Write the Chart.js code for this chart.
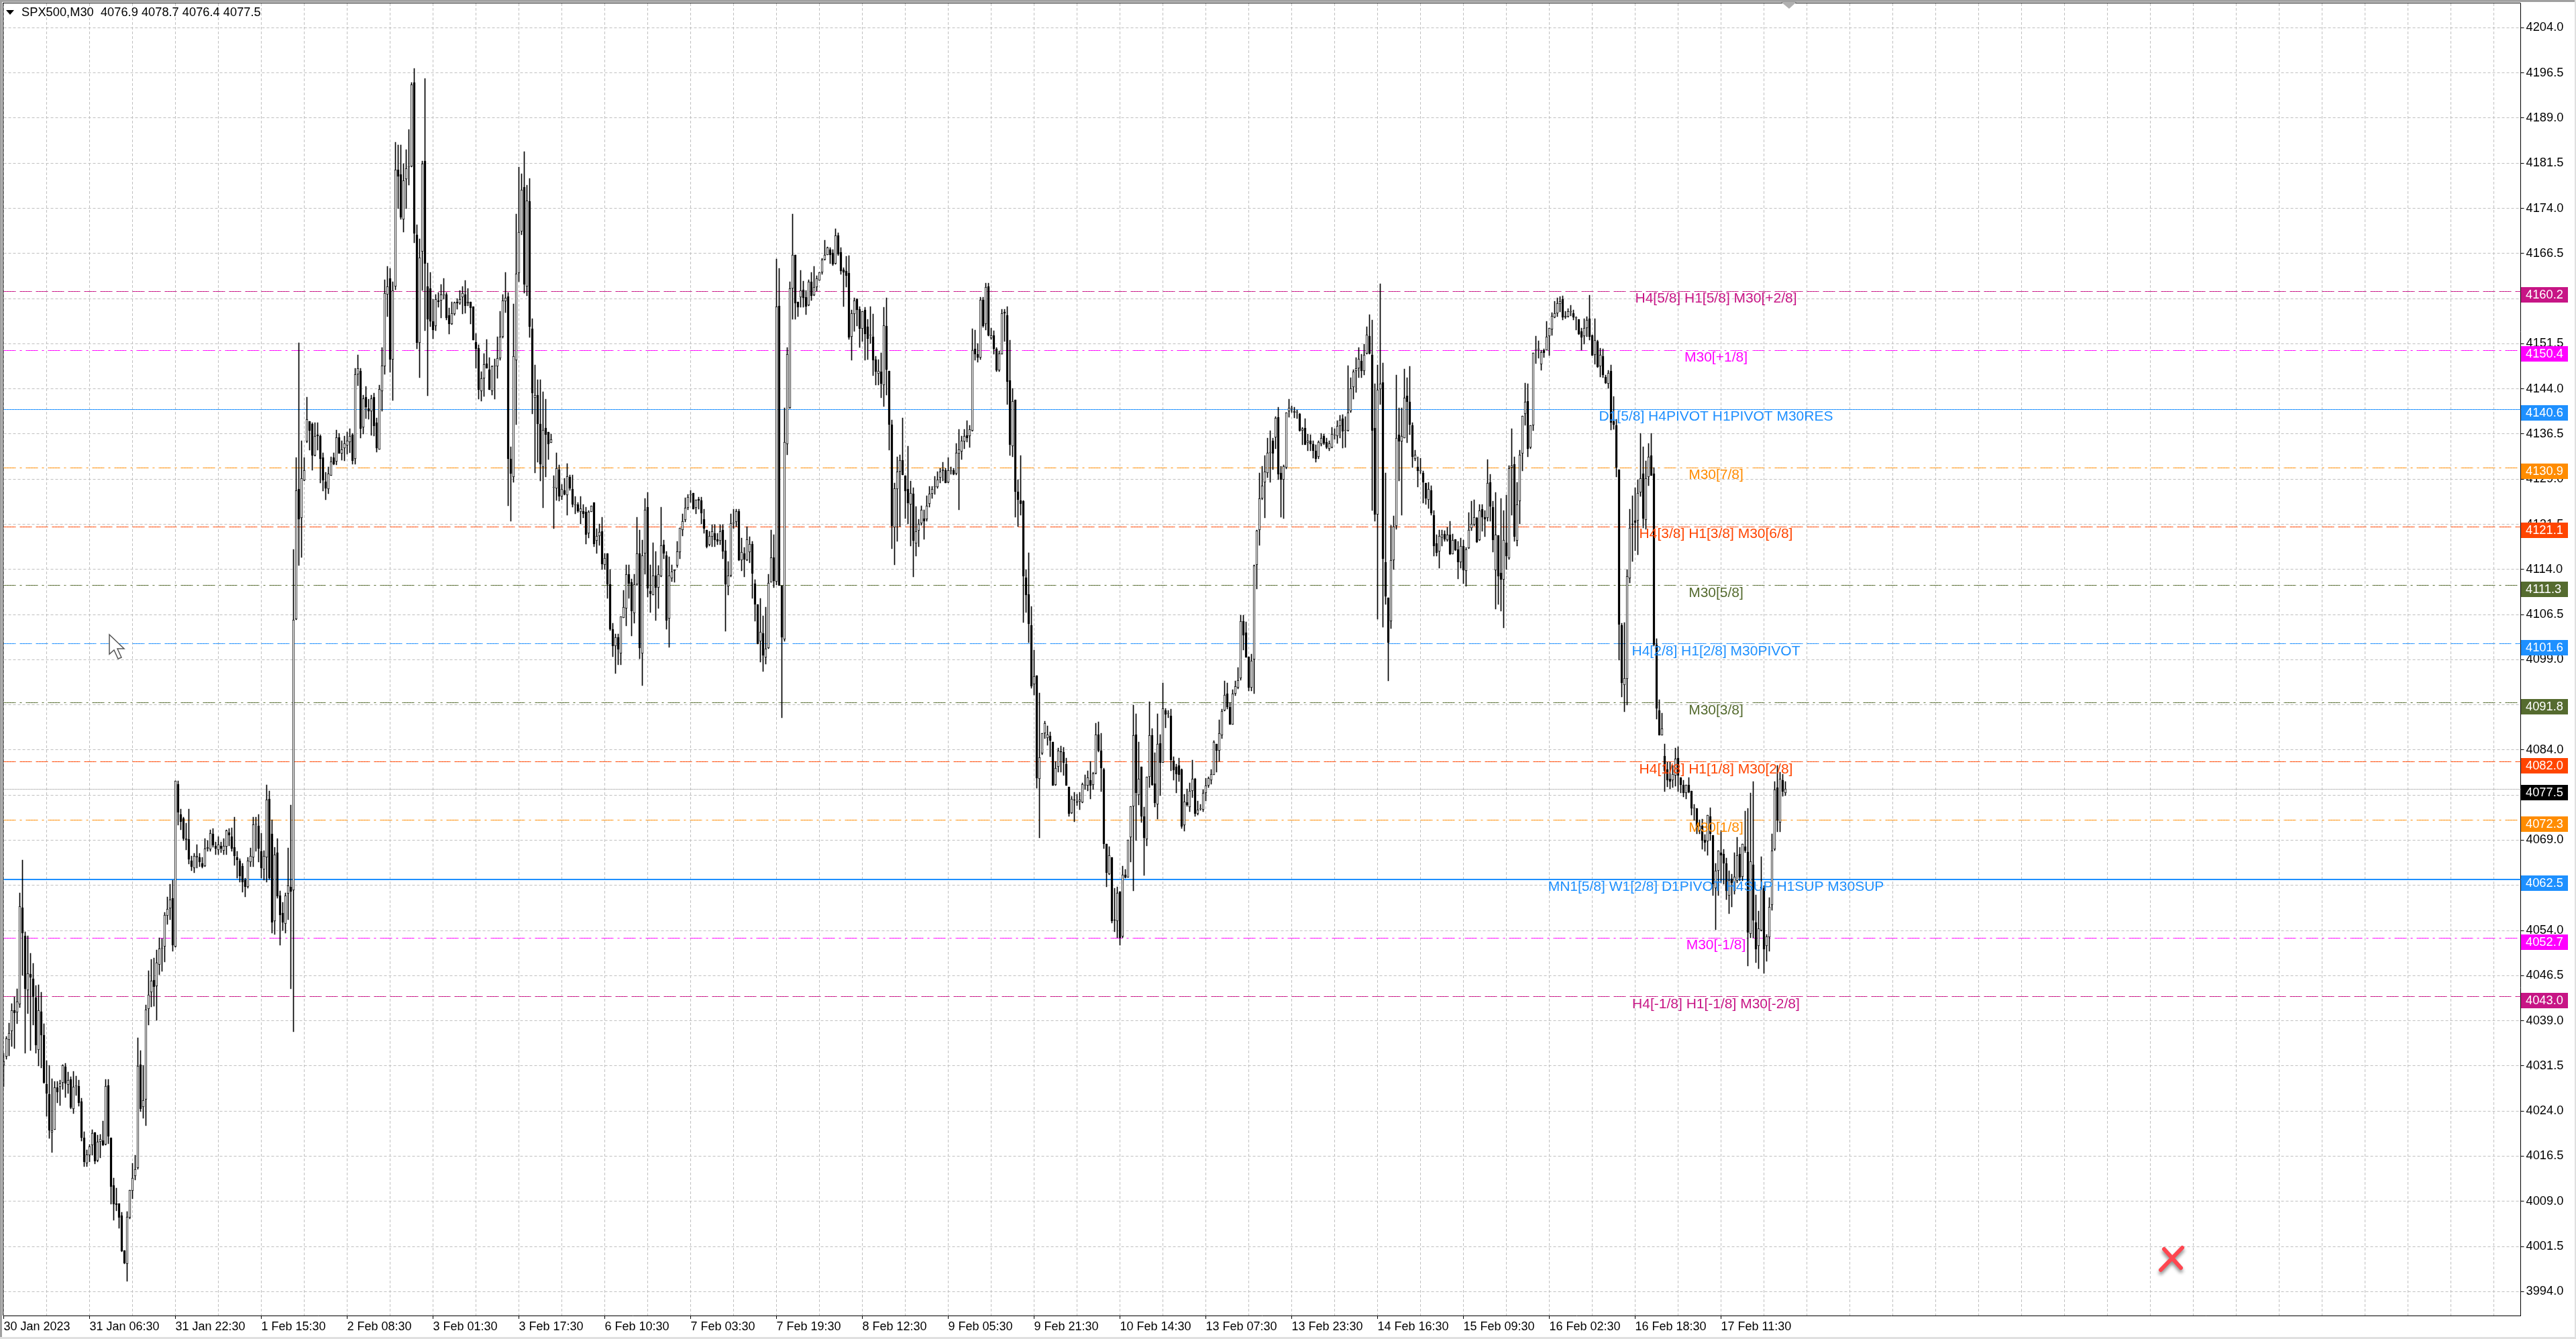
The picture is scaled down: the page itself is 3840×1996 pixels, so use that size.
<!DOCTYPE html>
<html>
<head>
<meta charset="utf-8">
<title>SPX500,M30</title>
<script src="https://cdn.jsdelivr.net/npm/chart.js@4"></script>
<style>
    html, body { margin: 0; padding: 0; background: #fff; overflow: hidden; }
    canvas { display: block; }
</style>
</head>
<body>
<canvas id="priceChart" width="3840" height="1996" style="width:3840px;height:1996px"></canvas>
<script>
const titleText = "SPX500,M30  4076.9 4078.7 4076.4 4077.5";

const timeTicks = ["30 Jan 2023", "31 Jan 06:30", "31 Jan 22:30", "1 Feb 15:30", "2 Feb 08:30", "3 Feb 01:30", "3 Feb 17:30",
    "6 Feb 10:30", "7 Feb 03:30", "7 Feb 19:30", "8 Feb 12:30", "9 Feb 05:30", "9 Feb 21:30", "10 Feb 14:30", "13 Feb 07:30",
    "13 Feb 23:30", "14 Feb 16:30", "15 Feb 09:30", "16 Feb 02:30", "16 Feb 18:30", "17 Feb 11:30"];

const priceTicks = [4204, 4196.5, 4189, 4181.5, 4174, 4166.5, 4159, 4151.5, 4144, 4136.5, 4129, 4121.5, 4114, 4106.5, 4099,
    4091.5, 4084, 4076.5, 4069, 4061.5, 4054, 4046.5, 4039, 4031.5, 4024, 4016.5, 4009, 4001.5, 3994];

const levelValues = [4160.2, 4150.4, 4140.6, 4130.9, 4121.1, 4111.3, 4101.6, 4091.8, 4082.0, 4072.3, 4062.5, 4052.7, 4043.0];
const levelTexts = ["H4[5/8] H1[5/8] M30[+2/8]", "M30[+1/8]", "D1[5/8] H4PIVOT H1PIVOT M30RES", "M30[7/8]", "H4[3/8] H1[3/8] M30[6/8]",
    "M30[5/8]", "H4[2/8] H1[2/8] M30PIVOT", "M30[3/8]", "H4[1/8] H1[1/8] M30[2/8]", "M30[1/8]",
    "MN1[5/8] W1[2/8] D1PIVOT H4SUP H1SUP M30SUP", "M30[-1/8]", "H4[-1/8] H1[-1/8] M30[-2/8]"];
const levelColors = ["#C71585", "#FF00FF", "#1E90FF", "#FF8C00", "#FF4500", "#556B2F", "#1E90FF", "#556B2F", "#FF4500", "#FF8C00", "#1E90FF", "#FF00FF", "#C71585"];
const lastPrice = 4077.5;

const opens = [
    4031.6, 4033, 4035.8, 4037.3, 4040.7, 4040.4, 4041.7, 4057.8, 4053.1, 4044.1,
    4046.8, 4046, 4042.9, 4034.2, 4040.5, 4036.6, 4028.5, 4026.8, 4020.4, 4020.9,
    4027.9, 4028, 4028.7, 4031.4, 4028.4, 4029.3, 4024.3, 4028.1, 4028.1, 4025.6,
    4019.6, 4015.3, 4016.7, 4018.3, 4020.4, 4015.8, 4018.9, 4019.1, 4018.4, 4028.2,
    4019.6, 4011.6, 4008.6, 4008.6, 4006.6, 4000.8, 3998.6, 4006.3, 4010.8, 4013.2,
    4014.5, 4031.7, 4024.7, 4025.9, 4041, 4043.8, 4045.8, 4044.8, 4048.3, 4051,
    4051.3, 4056.4, 4057.7, 4059.3, 4051.3, 4078.3, 4073.3, 4072.6, 4069, 4069.2,
    4065.6, 4064.4, 4066.1, 4066.1, 4065.1, 4064.7, 4067.6, 4067.5, 4070.1, 4068.1,
    4067.4, 4068.1, 4067.3, 4067.9, 4070.3, 4069.6, 4067.8, 4066.1, 4065.6, 4064.7,
    4062.4, 4061.3, 4065.4, 4066.1, 4071.6, 4071.4, 4067.1, 4064.1, 4066.1, 4075.9,
    4070.1, 4055.6, 4066.9, 4059.8, 4056.9, 4055.1, 4060.1, 4061.3, 4060.7, 4105.7,
    4127.3, 4122.6, 4128.8, 4135.3, 4138.6, 4138.2, 4132.9, 4136.4, 4136.2, 4132.6,
    4128.6, 4127.4, 4129.6, 4132.6, 4131.9, 4135.9, 4133.3, 4134.1, 4134.6, 4135.1,
    4136.4, 4132.4, 4146.4, 4147, 4137.6, 4142.6, 4140.7, 4140.3, 4142.6, 4138.4,
    4133.9, 4143.6, 4147.8, 4159.7, 4162.4, 4148.9, 4161, 4180.4, 4179.6, 4172.2,
    4178.9, 4180.8, 4181, 4194.9, 4169.6, 4151.7, 4166.8, 4181.9, 4161, 4160.7,
    4155.2, 4154.4, 4158.7, 4158.7, 4159.6, 4159.7, 4156.2, 4154.8, 4156.4, 4158.5,
    4158.2, 4159.2, 4159.7, 4158.2, 4158.4, 4157.7, 4151.8, 4150.8, 4143.6, 4145.7,
    4148.2, 4147.2, 4143.6, 4147.7, 4147.7, 4149.1, 4152.6, 4158.6, 4159.3, 4132.4,
    4129.3, 4148.8, 4163.2, 4170.1, 4177.5, 4161, 4175.2, 4154, 4142.5, 4142.9,
    4138.2, 4131, 4137.5, 4136.8, 4135, 4127.6, 4127.5, 4130.6, 4126.1, 4127.1,
    4126.3, 4129.3, 4127.3, 4124.7, 4124.8, 4123.6, 4123.7, 4123.6, 4120, 4123.6,
    4125.1, 4118.8, 4119.6, 4120.3, 4114.8, 4116.7, 4111.5, 4104.1, 4101.3, 4102.7,
    4100, 4106, 4107.5, 4113.2, 4111.8, 4106.7, 4111.5, 4116.7, 4100, 4116.6,
    4124.3, 4110.4, 4109.7, 4113, 4111, 4112.9, 4118.1, 4116.3, 4105.8, 4112.5,
    4113.8, 4114.6, 4116.9, 4120.6, 4122.2, 4124.2, 4126.3, 4126.7, 4124.2, 4125.7,
    4125.4, 4122.3, 4120.6, 4118.1, 4119.4, 4120, 4119, 4118.8, 4120.6, 4117.1,
    4111.2, 4113, 4121.7, 4121.9, 4123.7, 4115.5, 4116.6, 4115.5, 4116.9, 4118.2,
    4111.6, 4108.2, 4102, 4103.4, 4099.4, 4100.9, 4111.9, 4116, 4112, 4157.8,
    4111.3, 4102.4, 4134.8, 4140.8, 4160.7, 4166.2, 4158.5, 4159.2, 4160.5, 4159.2,
    4157.9, 4161.8, 4159.6, 4160.9, 4162, 4163.4, 4165.5, 4166.2, 4167.1, 4166.6,
    4164.8, 4169.5, 4166.7, 4163.8, 4163.6, 4163.2, 4152.7, 4156.4, 4158.9, 4157.2,
    4154, 4157.1, 4154.3, 4152.9, 4152.7, 4148.9, 4146.5, 4146.9, 4144.6, 4154.4,
    4147, 4138, 4121, 4127.3, 4130.3, 4132.1, 4129.6, 4127.3, 4124.8, 4126.6,
    4118.3, 4120.4, 4121.7, 4122.4, 4122.3, 4124.9, 4126.6, 4127.7, 4127.7, 4129.2,
    4130.4, 4130.5, 4128.5, 4130.4, 4130.5, 4129.9, 4133.3, 4133.6, 4135.3, 4136.3,
    4136.1, 4137, 4150.6, 4149.8, 4149.2, 4158.8, 4154.8, 4161, 4152.4, 4152.9,
    4150.7, 4147.1, 4149.8, 4156.8, 4156.2, 4145.4, 4134.5, 4142.2, 4126.9, 4125.5,
    4125.3, 4112.6, 4109.9, 4104.7, 4094.9, 4096.4, 4079.2, 4083.4, 4086.8, 4086,
    4086.3, 4085.3, 4078.2, 4081.2, 4083.7, 4083.7, 4081.7, 4077.9, 4073.5, 4075.7,
    4075.4, 4075.4, 4075.3, 4078.1, 4078.1, 4079, 4078.2, 4080.1, 4086.6, 4083.9,
    4080.8, 4068.4, 4063.4, 4066.1, 4055.8, 4055.6, 4060.5, 4053, 4063.2, 4062.8,
    4069.5, 4074.6, 4086.6, 4076.5, 4081.2, 4073, 4069.2, 4079.5, 4086.4, 4078.4,
    4075, 4085.1, 4081.9, 4090.6, 4090, 4089.7, 4082.2, 4081.2, 4081.4, 4080.8,
    4071.5, 4075.3, 4074.5, 4077.2, 4079.2, 4073.4, 4074.2, 4074.1, 4076.8, 4078.1,
    4079, 4079.9, 4085, 4083.9, 4086.4, 4090.6, 4093.3, 4091.1, 4088.2, 4093.3,
    4094.4, 4095.9, 4105.4, 4103.5, 4099.5, 4094.4, 4099, 4114.7, 4120.5, 4125.8,
    4128.5, 4130, 4133.4, 4135.4, 4135.9, 4139.3, 4130, 4128.9, 4130.9, 4140.3,
    4140.7, 4140, 4140, 4139.8, 4137, 4137.5, 4135, 4135.4, 4134.8, 4133.7,
    4132.7, 4134.8, 4136.1, 4135.1, 4134, 4134.3, 4136.3, 4136.1, 4137.8, 4139,
    4137, 4137, 4140.3, 4144.3, 4147, 4147.4, 4148.6, 4147, 4149.9, 4152.8,
    4149.6, 4137.5, 4123.1, 4144, 4145.1, 4115.2, 4109.3, 4105.4, 4115.5, 4121.2,
    4136.4, 4135.3, 4135.8, 4142.8, 4141.8, 4137.9, 4132.4, 4131, 4130.4, 4130,
    4128.4, 4125.6, 4127.1, 4123, 4118.3, 4117, 4119.3, 4119.9, 4118.9, 4119.8,
    4116.5, 4119, 4117.3, 4115.2, 4117.9, 4113.8, 4117.5, 4120.9, 4121.4, 4122.6,
    4118.9, 4124, 4122.7, 4122.5, 4128.5, 4124.3, 4113.9, 4119.7, 4113.4, 4112.3,
    4118.4, 4115.9, 4130.9, 4131.5, 4118.8, 4125.3, 4133.3, 4139.8, 4142, 4134.3,
    4137.9, 4150.4, 4150.5, 4148.1, 4150.4, 4150.4, 4152.8, 4153.9, 4155.9, 4156.6,
    4158.1, 4158.9, 4155.9, 4156, 4156.8, 4156.6, 4155.8, 4155.5, 4153.5, 4152.8,
    4154.1, 4155.7, 4152.9, 4149.6, 4151.9, 4147.7, 4149.4, 4146, 4144.9, 4147,
    4138.6, 4137.9, 4130.6, 4104.7, 4094.8, 4095.8, 4112.5, 4121.5, 4122.1, 4122.1,
    4126.8, 4129.9, 4122.2, 4129.4, 4132.9, 4129.9, 4101.5, 4090.6, 4086.4, 4083,
    4080.8, 4079.2, 4079, 4079.7, 4082.6, 4079.4, 4078.2, 4076.8, 4078.2, 4077.2,
    4074.3, 4074.3, 4070.6, 4071.4, 4069, 4068.8, 4073, 4069.8, 4061, 4063.9,
    4066.9, 4066.7, 4065.2, 4059.8, 4062.6, 4060.6, 4062.3, 4066.7, 4062.9, 4067.9,
    4067, 4053.4, 4064.9, 4055.3, 4051.4, 4054, 4061, 4051.4, 4052.9, 4058.2,
    4067.5, 4077.8, 4071.9, 4079, 4076.9];

const closes = [
    4032.3, 4036.1, 4037, 4040.7, 4040.3, 4042.2, 4058, 4053.6, 4044.3, 4046.9,
    4046.2, 4043, 4034.9, 4040.7, 4036.6, 4028.7, 4026.9, 4020.8, 4020.8, 4027.9,
    4027.1, 4028.6, 4031.6, 4028.6, 4029.1, 4024.6, 4028, 4028.3, 4025.3, 4019.6,
    4015.5, 4016.8, 4018.1, 4020.3, 4015.7, 4018.9, 4019.3, 4018.3, 4028.1, 4019.8,
    4011.4, 4008.5, 4008.4, 4006.3, 4000.7, 3998.7, 4006.4, 4010.9, 4012.9, 4014.3,
    4031.5, 4024.3, 4025.8, 4040.8, 4043.3, 4045.6, 4044.6, 4048.6, 4051, 4051,
    4056.6, 4057.6, 4059.1, 4051.6, 4078.9, 4073.6, 4072.1, 4069.3, 4069.3, 4065.8,
    4064.6, 4066.4, 4066.4, 4065.4, 4064.6, 4067.6, 4067.8, 4070.2, 4068.2, 4067.6,
    4068.3, 4067.6, 4068.1, 4070.6, 4069.8, 4067.6, 4066.4, 4065.7, 4063, 4062,
    4061.3, 4065.6, 4066.4, 4071.6, 4071.6, 4067.6, 4064.4, 4066.4, 4075.7, 4062.7,
    4055.3, 4066.6, 4059.7, 4056.6, 4055.3, 4059.8, 4061.5, 4060.5, 4105.6, 4127.1,
    4122.3, 4129.1, 4130.5, 4138.9, 4137.1, 4132.9, 4136.2, 4136.1, 4132.4, 4128.8,
    4127.5, 4129.9, 4131.9, 4131.5, 4135.9, 4133.3, 4133.9, 4134.9, 4135.4, 4136.2,
    4132, 4146.4, 4147.4, 4137.4, 4142.4, 4140.9, 4140.3, 4142.4, 4137.8, 4134.1,
    4144, 4147.9, 4159.9, 4161, 4148.9, 4160.3, 4180.4, 4179.3, 4172.5, 4178.6,
    4180.6, 4180.9, 4194.6, 4169.8, 4151.7, 4165.8, 4181.4, 4164.8, 4155.5, 4155.2,
    4153.8, 4158.9, 4158.4, 4159.7, 4159.7, 4155.8, 4154.8, 4156.6, 4158.3, 4158.2,
    4158.9, 4159.9, 4157.8, 4158.4, 4157.4, 4152.1, 4150.7, 4143.8, 4145.7, 4148.1,
    4147.4, 4143.8, 4147.8, 4147.8, 4149.1, 4152.6, 4158.7, 4159.1, 4132.4, 4129.9,
    4149.4, 4163.1, 4170, 4177.1, 4161.3, 4175.3, 4154.3, 4143.3, 4143, 4138.2,
    4131.5, 4137.2, 4136.4, 4134.8, 4135.6, 4127.6, 4130.8, 4126.1, 4127.3, 4126.5,
    4129.5, 4127.5, 4124.8, 4124.7, 4123.7, 4124.1, 4123.2, 4119.8, 4123.6, 4124.6,
    4118.2, 4119.6, 4120.2, 4114.9, 4115.9, 4111.5, 4104, 4101.3, 4102.7, 4100.7,
    4106.2, 4107.7, 4113.2, 4111.6, 4107.1, 4111.5, 4116.6, 4100.9, 4116.3, 4123.9,
    4110.8, 4110, 4113, 4111, 4113.2, 4118, 4116.6, 4105.5, 4113, 4113.6,
    4114, 4117, 4120.9, 4122, 4124.2, 4126, 4126.3, 4124, 4125.6, 4125.4,
    4123.3, 4120.8, 4117.8, 4119.6, 4120.3, 4118.9, 4118.7, 4120.3, 4117, 4111.5,
    4113, 4121.7, 4121.8, 4123.7, 4115.5, 4116.9, 4115.6, 4119, 4118.2, 4113.3,
    4108.2, 4101.6, 4103.6, 4099.7, 4100.8, 4111.7, 4116, 4112.1, 4157.7, 4111.3,
    4102.7, 4135.2, 4149.8, 4160.7, 4166.2, 4158.2, 4157.6, 4160.3, 4159.1, 4157.7,
    4161.8, 4159.5, 4160.9, 4162.3, 4163.4, 4165.5, 4166.2, 4167.5, 4166.3, 4164.7,
    4169.5, 4166.4, 4163.6, 4163.4, 4162.8, 4152.5, 4156.6, 4158.7, 4157.1, 4154,
    4156.9, 4153.1, 4152.3, 4152.9, 4148.8, 4146.8, 4147, 4144.8, 4154.5, 4147.2,
    4138, 4121.2, 4127.5, 4130.3, 4132.1, 4129.7, 4127, 4125, 4126.7, 4118.8,
    4120.3, 4121.5, 4123.9, 4122, 4124.6, 4126.6, 4127.4, 4127.8, 4128.9, 4130.3,
    4130.6, 4128.4, 4130.5, 4130.5, 4129.8, 4133.4, 4133.9, 4135.4, 4136.2, 4135.8,
    4137.3, 4150.4, 4149.7, 4149.2, 4158.8, 4154.4, 4160.9, 4152.9, 4152.9, 4150.6,
    4147.1, 4149.9, 4156.5, 4156.5, 4145.2, 4134.7, 4141.9, 4126.9, 4125.6, 4124.9,
    4112.9, 4109.7, 4104.9, 4094.6, 4096.2, 4079.3, 4082.8, 4086.8, 4088.5, 4086.6,
    4085.6, 4078.1, 4081, 4083.9, 4083.6, 4081.9, 4078.1, 4073.4, 4075.9, 4075.6,
    4075.3, 4075.7, 4078.3, 4078.2, 4079.4, 4078.1, 4080.1, 4086.6, 4083.9, 4081,
    4068.4, 4063.6, 4066.5, 4055.6, 4055.7, 4060.2, 4052.8, 4063.2, 4062.8, 4069.1,
    4074.6, 4086.4, 4076.9, 4079.2, 4073, 4069.4, 4079.5, 4086.4, 4078.2, 4075.2,
    4085, 4081.9, 4090.9, 4089.9, 4090, 4082.3, 4080.6, 4080, 4079.9, 4071.3,
    4075.4, 4074.8, 4077.2, 4079.2, 4073.4, 4074.1, 4074.3, 4076.9, 4078.1, 4079.3,
    4080, 4085.3, 4083.9, 4086.8, 4090.4, 4093.1, 4091.1, 4088.2, 4093.3, 4094.6,
    4095.6, 4105.4, 4103.1, 4099.4, 4094.3, 4098.8, 4114.6, 4120.4, 4125.8, 4127.9,
    4130.3, 4133.4, 4133.5, 4133.2, 4139.2, 4129.8, 4128.9, 4131.1, 4140, 4140.8,
    4140.7, 4140.3, 4140, 4137.1, 4137.4, 4134.7, 4135.4, 4134.8, 4133.7, 4132.4,
    4135.1, 4135.8, 4134.9, 4134.3, 4134.9, 4136.5, 4136.4, 4137.8, 4138.8, 4136.9,
    4137.2, 4140.1, 4144.1, 4146.9, 4147.4, 4149, 4147, 4149.6, 4153, 4149.9,
    4137, 4123.1, 4143.9, 4144.8, 4115.8, 4109.5, 4101.8, 4115.5, 4121.1, 4135.8,
    4135.3, 4136.1, 4142.5, 4141.8, 4138, 4132.7, 4133, 4130.4, 4130.4, 4128.5,
    4125.8, 4127.4, 4123.3, 4117.9, 4116.8, 4119.5, 4119.8, 4119, 4119.8, 4116.5,
    4118.9, 4117.2, 4115.2, 4117.9, 4113.9, 4117.3, 4120.5, 4121.5, 4122.7, 4118.5,
    4123.8, 4122.7, 4122.3, 4128.4, 4124.5, 4118.9, 4119.8, 4112.9, 4112.3, 4118.9,
    4116.2, 4130.8, 4131.3, 4119.4, 4124.8, 4133, 4139.5, 4141.8, 4134, 4137.9,
    4150, 4150.4, 4150.6, 4150.1, 4150, 4152.7, 4154.1, 4156.1, 4156.6, 4158.2,
    4158.6, 4155.9, 4156.1, 4156.9, 4156.8, 4155.9, 4155.8, 4153.1, 4152.5, 4154.1,
    4155.4, 4152.6, 4149.5, 4152.1, 4147.6, 4149.6, 4146.3, 4145, 4146.6, 4138.4,
    4138, 4130.9, 4104.8, 4095.1, 4095.9, 4112.9, 4120.9, 4121.4, 4121.8, 4126.7,
    4129.1, 4122.4, 4129.1, 4132.7, 4129.6, 4101.5, 4090.9, 4086.4, 4087.6, 4080.5,
    4079, 4078.7, 4080, 4082.5, 4079.7, 4078.2, 4076.8, 4078.2, 4077, 4074.3,
    4074.3, 4071.2, 4071.4, 4068.9, 4068.6, 4073.2, 4070, 4061.7, 4063.9, 4067.3,
    4066.5, 4065.2, 4060.6, 4062.4, 4061.9, 4062.9, 4066.5, 4062.8, 4068.4, 4067.3,
    4053.7, 4065.5, 4055.7, 4050.9, 4054.3, 4061.2, 4050.9, 4053, 4057.9, 4067.3,
    4077.4, 4072.3, 4079.2, 4077.1, 4077.5];

const highs = [
    4033.6, 4036.4, 4038.6, 4041.8, 4043, 4044.3, 4060.2, 4065.7, 4053.8, 4053.1,
    4050.2, 4048.5, 4044.9, 4045, 4043.8, 4038.5, 4032.4, 4031.6, 4029.4, 4028.9,
    4028.9, 4029.1, 4031.7, 4031.9, 4030.5, 4029.7, 4030.6, 4029.8, 4029.1, 4026.1,
    4020.6, 4017.6, 4018.4, 4020.9, 4020.5, 4020, 4020.1, 4022.3, 4029.3, 4029.3,
    4019.6, 4012.9, 4011.2, 4008.6, 4007.2, 4000.8, 4007.3, 4010.9, 4015.3, 4016.7,
    4036.2, 4034.1, 4031.6, 4041.6, 4047.3, 4049.2, 4049.4, 4050.8, 4052.8, 4052.7,
    4057, 4059.6, 4061.7, 4062.4, 4078.9, 4078.9, 4074.2, 4072.8, 4071.8, 4074.2,
    4066.4, 4066.8, 4068.3, 4066.8, 4066.1, 4069.3, 4068.9, 4070.7, 4070.9, 4068.7,
    4069.6, 4068.7, 4069.3, 4070.7, 4070.9, 4071.1, 4072.8, 4067.1, 4065.9, 4065.2,
    4062.7, 4066.1, 4067.7, 4072.8, 4072.8, 4073.3, 4070.2, 4067.3, 4078.2, 4077.2,
    4072.4, 4067.8, 4069.3, 4060.6, 4058.7, 4060.2, 4067.7, 4074.9, 4117.3, 4132.6,
    4151.6, 4135.4, 4132.6, 4142.6, 4138.6, 4138.4, 4138.4, 4138.4, 4136.4, 4133.4,
    4130.1, 4131, 4132.7, 4133.4, 4137.2, 4136.6, 4135.4, 4136.2, 4136.8, 4137.4,
    4136.6, 4147.4, 4149.6, 4147.4, 4143, 4144.4, 4142.3, 4142.9, 4143.3, 4139.2,
    4144.6, 4150.9, 4162.1, 4164.3, 4164, 4161.8, 4185, 4184.5, 4184.5, 4181.4,
    4183.7, 4187.1, 4194.9, 4197.2, 4171.3, 4168.9, 4181.9, 4195.6, 4164.9, 4163.4,
    4158.9, 4159.7, 4160, 4161.4, 4162.4, 4160, 4157.4, 4158.5, 4158.5, 4159,
    4160.3, 4161, 4162, 4160.7, 4158.4, 4157.7, 4153.2, 4151.3, 4146.8, 4149.9,
    4152.2, 4149.2, 4147.9, 4149, 4152.6, 4156.9, 4159.7, 4163.4, 4160, 4134.4,
    4158.1, 4173, 4180.8, 4179.7, 4183.4, 4177.8, 4179, 4155.7, 4148, 4145.5,
    4145.5, 4143.5, 4142.3, 4136.8, 4136.5, 4129.6, 4133.4, 4131.4, 4128.1, 4129.1,
    4131.6, 4129.7, 4129.7, 4126.1, 4125.1, 4126.1, 4124.8, 4124.3, 4123.8, 4124.6,
    4125.1, 4120.8, 4121.6, 4122.7, 4116.7, 4116.7, 4114, 4105.1, 4103.3, 4103.3,
    4106.2, 4110.5, 4114.8, 4114.8, 4112.4, 4113.2, 4122.7, 4120.6, 4118.9, 4125.8,
    4126.8, 4114.7, 4118.4, 4117, 4114.6, 4124.3, 4118.9, 4117, 4116.1, 4114.8,
    4114, 4118.6, 4120.9, 4123.2, 4125.9, 4126.5, 4127.1, 4126.7, 4125.6, 4126,
    4126, 4124, 4120.6, 4120.3, 4121.4, 4121.4, 4120, 4121.4, 4121.4, 4118.9,
    4115.3, 4123.2, 4124, 4124, 4124, 4119.2, 4117.7, 4121.1, 4119.4, 4118.6,
    4112.3, 4108.2, 4109.2, 4106.3, 4107.7, 4113.2, 4120.6, 4119.8, 4165.6, 4164,
    4111.3, 4140.8, 4150.9, 4161.8, 4173, 4166.3, 4158.5, 4163.7, 4161.9, 4160.3,
    4162.1, 4163.4, 4164.4, 4162.8, 4163.4, 4165.7, 4168.7, 4167.6, 4167.5, 4167.1,
    4170.6, 4169.9, 4167.5, 4164.1, 4166, 4166.1, 4157.1, 4159.1, 4159, 4157.7,
    4156.9, 4157.6, 4155.6, 4157.7, 4156.4, 4149.4, 4148.9, 4150, 4157.6, 4159.1,
    4147, 4138.8, 4128.4, 4132.7, 4133, 4139.2, 4129.6, 4134.5, 4128.7, 4127.6,
    4124.5, 4122.3, 4124.6, 4123.9, 4126.2, 4127.8, 4127.8, 4129.5, 4130.3, 4130.8,
    4131.8, 4130.8, 4132.6, 4131, 4130.8, 4134.9, 4137.3, 4136.2, 4137.3, 4138.7,
    4137.9, 4154, 4153.8, 4151.5, 4159.2, 4159.2, 4161.6, 4161.6, 4154.1, 4153.6,
    4150.9, 4150.3, 4157.2, 4157.2, 4157.7, 4152.1, 4144.1, 4142.2, 4128.9, 4132.9,
    4125.4, 4114, 4116.8, 4107.8, 4100.6, 4096.4, 4093.5, 4086.8, 4088.8, 4088,
    4087, 4085.3, 4082.1, 4084.3, 4084.6, 4084.4, 4082.7, 4077.9, 4076.3, 4077,
    4076.6, 4077, 4078.5, 4079.9, 4080.5, 4082.1, 4080.3, 4088.5, 4088.7, 4086.8,
    4081, 4068.4, 4067.9, 4066.1, 4061, 4061.2, 4060.5, 4064.7, 4064.1, 4069.1,
    4074.6, 4091.4, 4090, 4085.3, 4081.2, 4074.5, 4079.5, 4092, 4087.5, 4083.5,
    4090, 4086.6, 4095.1, 4090.9, 4090.6, 4090.8, 4082.9, 4081.7, 4082.7, 4080.9,
    4076.6, 4077.5, 4078.5, 4082.3, 4079.3, 4075.5, 4075, 4077.4, 4079.3, 4079.5,
    4080.8, 4085.6, 4085, 4089, 4090.8, 4095.5, 4095.1, 4091.9, 4094, 4095.5,
    4097.7, 4106.4, 4106.4, 4105.3, 4099.5, 4099.9, 4114.7, 4120.5, 4130, 4131.1,
    4132.9, 4135.8, 4137.1, 4135.8, 4139.4, 4141, 4131.1, 4131.4, 4140, 4142.3,
    4141.2, 4141, 4140.5, 4139.9, 4137.6, 4139, 4136.5, 4136.4, 4135.4, 4134.7,
    4135.4, 4136.6, 4136.5, 4135.8, 4135.4, 4137.6, 4137.4, 4138.7, 4139.6, 4139.7,
    4139.4, 4147.9, 4145.9, 4147.2, 4149.2, 4150.9, 4149.8, 4151.4, 4154.3, 4156.3,
    4155.4, 4144.8, 4148, 4161.5, 4148.3, 4130, 4109.3, 4121.3, 4122.9, 4146.3,
    4140.8, 4140.8, 4147.3, 4145.9, 4147.8, 4138.4, 4133.8, 4132.7, 4132.5, 4130.4,
    4128.4, 4128.5, 4127.9, 4123.8, 4119.8, 4120.5, 4120.5, 4120.4, 4121, 4122,
    4119.9, 4119, 4118.7, 4119.2, 4118.9, 4117.6, 4123.5, 4125.3, 4125.6, 4122.7,
    4124.8, 4124.8, 4123.8, 4132.3, 4129.8, 4125.3, 4126.8, 4119.7, 4125.8, 4123.8,
    4126.3, 4131.2, 4137.4, 4132.7, 4128.5, 4133.8, 4139.5, 4145, 4144.9, 4137.9,
    4150, 4152.8, 4152, 4150.4, 4150.7, 4155.2, 4154.1, 4156.7, 4158.6, 4159.1,
    4159.3, 4159.5, 4156.9, 4157.3, 4157.9, 4157.1, 4156, 4155.5, 4154.1, 4155.7,
    4156, 4159.6, 4153, 4155.7, 4152.1, 4150.8, 4150.7, 4146.3, 4147.1, 4148,
    4142.7, 4138.9, 4130.6, 4105.1, 4105.2, 4114, 4124, 4126.2, 4127.6, 4128.9,
    4136.6, 4134.4, 4132, 4134.9, 4136.6, 4130.9, 4102.5, 4092.4, 4090.1, 4085,
    4082, 4082, 4081.4, 4084.3, 4084.5, 4079.4, 4079, 4078.2, 4079.4, 4077.2,
    4075, 4074.3, 4072.4, 4072.5, 4069.9, 4073.2, 4074.4, 4069.8, 4065.2, 4067.3,
    4070.6, 4067.5, 4066, 4063.9, 4063.4, 4066.9, 4069.5, 4067.8, 4068.4, 4073.8,
    4074.3, 4076.8, 4078.8, 4059.9, 4057.2, 4066.3, 4061.5, 4053.3, 4059.5, 4070,
    4078.8, 4081.4, 4080.3, 4080, 4078.7];

const lows = [
    4028, 4032.6, 4033.2, 4034.7, 4034.4, 4038.5, 4041.2, 4046.5, 4033.6, 4040.2,
    4034.1, 4038.3, 4033.6, 4031.5, 4031.2, 4028.6, 4023.1, 4019.5, 4017.1, 4020.9,
    4025.4, 4024.9, 4027.6, 4026.2, 4026.9, 4024.3, 4023.6, 4026.6, 4024.8, 4019,
    4014.8, 4014.8, 4015.5, 4016.7, 4015.2, 4015.5, 4016.2, 4018.2, 4018.3, 4018.6,
    4008.5, 4005.8, 4007.4, 4004.5, 4000.6, 3998.6, 3995.7, 4006.1, 4009.4, 4012.5,
    4014.3, 4023.9, 4022.8, 4021.6, 4038.3, 4041.3, 4041.4, 4039.1, 4046.6, 4047.2,
    4048.8, 4055, 4055.8, 4050.6, 4051.2, 4071.5, 4070.7, 4068.9, 4067.4, 4065,
    4063.9, 4063.6, 4064.4, 4064.6, 4064.4, 4064.6, 4067.2, 4067.2, 4067.8, 4066.6,
    4066.6, 4066.9, 4066.6, 4066.6, 4068.1, 4067.1, 4064.8, 4062.7, 4062, 4060.4,
    4059.6, 4061, 4064.6, 4064.6, 4067.1, 4065.4, 4062.7, 4062.4, 4062, 4062.5,
    4053.6, 4053.3, 4059.4, 4051.6, 4054, 4053.6, 4055.8, 4044.3, 4037.2, 4105.6,
    4114.6, 4116, 4128.7, 4135, 4133.8, 4130.5, 4132.8, 4133.8, 4128.4, 4127,
    4125.6, 4126.6, 4129.6, 4131.4, 4131.4, 4133.3, 4132.1, 4132, 4133.1, 4133.4,
    4131.5, 4131.5, 4144.5, 4135.8, 4136.5, 4139, 4138.9, 4136.3, 4136.2, 4133.5,
    4133.9, 4140.3, 4146.4, 4156, 4146.7, 4142.1, 4160.4, 4173.9, 4172.2, 4170,
    4173.9, 4177.8, 4180.8, 4168.3, 4150.6, 4145.8, 4160.3, 4153.7, 4142.8, 4154.3,
    4152.3, 4153.6, 4157.6, 4155.8, 4158.9, 4155.4, 4153.1, 4154.7, 4156.2, 4157.2,
    4158, 4156.4, 4156.6, 4157.8, 4154.8, 4152.1, 4147.4, 4142.3, 4141.9, 4142.7,
    4147.4, 4143.8, 4142.9, 4142.3, 4145.7, 4148.7, 4152.4, 4156.7, 4124.6, 4122,
    4128.5, 4138, 4161.8, 4169.6, 4159.9, 4159.4, 4152.5, 4139.8, 4130, 4131.8,
    4128.7, 4124.2, 4129.3, 4132.3, 4135, 4120.8, 4125.4, 4125.3, 4125.6, 4126.3,
    4123, 4127.1, 4124.3, 4123.2, 4123.5, 4121.5, 4122.5, 4118.2, 4119.2, 4123.6,
    4117.8, 4116.6, 4118, 4114, 4114, 4109.2, 4103.8, 4099.5, 4096.7, 4098.1,
    4098.1, 4105.9, 4104.6, 4109.2, 4102.9, 4105, 4111.3, 4099.1, 4094.7, 4113.2,
    4109.4, 4106.8, 4109.7, 4105.5, 4107.5, 4112.8, 4115.7, 4104, 4101, 4112,
    4111.9, 4114.3, 4115.8, 4119.6, 4121.9, 4123.9, 4125.1, 4124, 4123.2, 4124,
    4121.6, 4120, 4117.5, 4117.9, 4117.8, 4117.8, 4118.1, 4118.1, 4115.7, 4103.7,
    4109.7, 4112.8, 4120.8, 4121.1, 4115.4, 4113.8, 4112.8, 4115.4, 4115.1, 4109.2,
    4105.4, 4101.6, 4098.6, 4097, 4098.2, 4100.8, 4111.8, 4111, 4111.4, 4111.3,
    4089.3, 4102.1, 4133, 4140.7, 4155.6, 4155.6, 4156, 4157.6, 4157.6, 4156.3,
    4157.8, 4158.7, 4159.4, 4160.2, 4162, 4163, 4165.4, 4166.2, 4164.8, 4164.5,
    4164.7, 4166.1, 4163, 4157.7, 4160.9, 4152.2, 4148.8, 4153.5, 4154.4, 4150.9,
    4151.9, 4148.8, 4148.9, 4151.5, 4146.2, 4144.6, 4144.6, 4142.5, 4141.1, 4143,
    4133.8, 4117.4, 4114.7, 4118.7, 4121.1, 4129.7, 4122.4, 4121.6, 4117.9, 4112.8,
    4116.2, 4117.8, 4121.3, 4119, 4122, 4124.3, 4125.8, 4126.5, 4127.5, 4128.4,
    4128.7, 4128.4, 4128.4, 4129.8, 4129.7, 4129.7, 4123.9, 4132.2, 4134, 4135.2,
    4134.3, 4136.9, 4148.7, 4148.4, 4148.9, 4154.2, 4153.8, 4152.8, 4152.2, 4149.8,
    4146.9, 4146.8, 4149.8, 4151.9, 4141.4, 4132.9, 4132.7, 4122.7, 4121.1, 4123,
    4105.2, 4106.8, 4101.8, 4094.2, 4093.1, 4077.6, 4069.4, 4083.2, 4085.9, 4084.8,
    4082.9, 4078.1, 4078.1, 4080.3, 4080.3, 4079.8, 4078.1, 4073, 4073.4, 4072.1,
    4074.7, 4074.1, 4075.2, 4077.4, 4077.2, 4075.8, 4077.4, 4080, 4083.7, 4077.1,
    4067.6, 4061.2, 4063.2, 4055.2, 4053.8, 4052.8, 4051.6, 4052.8, 4062.7, 4062.8,
    4065.4, 4060.6, 4068.9, 4074.8, 4071.9, 4063.1, 4068.1, 4077.7, 4078.1, 4074.5,
    4072.5, 4076.4, 4081.9, 4087.7, 4089.3, 4080.5, 4079, 4076.8, 4078.8, 4071,
    4070.5, 4074.6, 4073.7, 4076.1, 4073, 4073.2, 4074, 4073.7, 4075.5, 4077.7,
    4078.3, 4079.9, 4080.3, 4082.1, 4085.9, 4090.4, 4090.8, 4088.2, 4088.2, 4093,
    4094.1, 4095.6, 4100.6, 4099.4, 4093.8, 4093.8, 4093.3, 4110.7, 4118, 4125.6,
    4122.6, 4129.2, 4128.5, 4130.6, 4134, 4128.9, 4122.7, 4122.4, 4130.7, 4139.3,
    4140.1, 4139.2, 4139, 4136.9, 4134.7, 4134.7, 4133.7, 4133.7, 4132.5, 4131.8,
    4132.4, 4134.5, 4134.7, 4134, 4133.7, 4134.2, 4135.6, 4134.9, 4135.8, 4134.2,
    4134.3, 4136.9, 4140, 4142.3, 4143.4, 4145.9, 4145.9, 4146.3, 4149.8, 4149.8,
    4123.8, 4122, 4105.7, 4141.4, 4104.4, 4108.2, 4095.5, 4104.2, 4114, 4120.7,
    4128.7, 4123, 4135.8, 4135, 4136.4, 4130.9, 4132, 4127.7, 4129.9, 4125,
    4124.8, 4124.1, 4123, 4116.2, 4116.2, 4114.2, 4117.9, 4118.7, 4118.7, 4116.4,
    4116.5, 4117.1, 4112.4, 4114.2, 4111.6, 4111.2, 4117.4, 4120.4, 4121.2, 4118.4,
    4118.8, 4120.3, 4119.4, 4122, 4122, 4116.9, 4107.4, 4108.2, 4107.1, 4104.3,
    4114, 4115.6, 4123, 4118.7, 4117.9, 4121.5, 4130.4, 4137.9, 4132.7, 4134,
    4137.1, 4148.2, 4149.1, 4147.1, 4149.2, 4150.4, 4149.5, 4152.9, 4155.8, 4156,
    4156.8, 4155.4, 4155.7, 4155.9, 4156.1, 4155.4, 4153.8, 4153, 4150.4, 4151.4,
    4152.7, 4152.1, 4149.5, 4148.1, 4147.5, 4146, 4145.9, 4144.9, 4144.1, 4137.2,
    4137.3, 4129.4, 4098.9, 4092.8, 4090.3, 4091.4, 4111.7, 4115.3, 4117.1, 4116.4,
    4126.1, 4120.9, 4120.7, 4127.9, 4129.6, 4101.3, 4089.1, 4086.4, 4086.4, 4077.1,
    4077.9, 4077.5, 4077.7, 4078, 4077.1, 4076.8, 4076.2, 4075.8, 4076.9, 4073.2,
    4072.3, 4070.1, 4070.1, 4067.5, 4067.1, 4066.5, 4068.9, 4059.8, 4054.1, 4059.8,
    4061.9, 4061.7, 4059.1, 4056.8, 4057.9, 4060, 4061.9, 4062.3, 4062.3, 4066.9,
    4048.1, 4052.8, 4052.8, 4048.7, 4047.7, 4053.9, 4046.9, 4048.9, 4050.5, 4057.4,
    4067.3, 4070.4, 4070.4, 4076.3, 4076.4];

const FONT = "'Liberation Sans', Arial, sans-serif";
const GRID = "#c0c0c0";
const BARS_PER_TICK = 32;
const BAR_SLOTS = 939; // chart keeps scrolling room to the right of the last bar

const slots = Array.from({ length: BAR_SLOTS }, (_, i) => i);

// M30[x/8] levels are dash-dot, the rest dashed, the pivot lines solid
function levelDash(text) {
    if (levelTexts[2] === text || levelTexts[10] === text) return [];
    if (text.startsWith("H4")) return [18, 6];
    return [18, 6, 3, 6];
}

const levelDatasets = levelValues.map((value, i) => ({
    type: "line",
    data: slots.map(() => value),
    borderColor: levelColors[i],
    borderWidth: i === 10 ? 2 : 1,
    borderDash: levelDash(levelTexts[i]),
    pointRadius: 0,
    order: 3,
}));

const chartOverlay = {
    id: "chartOverlay",
    beforeDraw(chart) {
        const { ctx, width, height } = chart;
        ctx.save();
        ctx.fillStyle = "#fff";
        ctx.fillRect(0, 0, width, height);
        ctx.restore();
    },
    // keep marks on whole pixels, the terminal does not antialias
    beforeDatasetDraw(chart, args) {
        const meta = args.meta;
        if (meta.type === "line") {
            const thick = chart.data.datasets[args.index].borderWidth === 2;
            meta.data.forEach((point) => {
                point.y = thick ? Math.round(point.y) : Math.floor(point.y) + 0.5;
            });
        } else {
            meta.data.forEach((bar) => {
                bar.y = Math.round(bar.y);
                bar.base = Math.round(bar.base);
                if (bar.y === bar.base) bar.base += 1;
            });
        }
    },
    afterDatasetsDraw(chart) {
        const { ctx, width, height, chartArea } = chart;
        const y = chart.scales.y;
        ctx.save();

        // window frame
        ctx.fillStyle = "#a0a0a0";
        ctx.fillRect(0, 0, width, 3);
        ctx.fillRect(0, 0, 3, height);
        ctx.fillStyle = "#e0e0e0";
        ctx.fillRect(0, height - 3, width, 3);
        ctx.fillRect(width - 2, 0, 2, height);
        ctx.fillStyle = "#000";
        ctx.fillRect(4, 4, chartArea.right - 4, 1);
        ctx.fillRect(4, 4, 1, chartArea.bottom - 4);
        ctx.fillStyle = "#b0b0b0";
        ctx.beginPath();
        ctx.moveTo(2655, 3);
        ctx.lineTo(2678, 3);
        ctx.lineTo(2667, 13);
        ctx.fill();

        // level captions sit just under their line
        ctx.font = "21px " + FONT;
        ctx.textAlign = "center";
        ctx.textBaseline = "middle";
        levelValues.forEach((value, i) => {
            ctx.fillStyle = levelColors[i];
            ctx.fillText(levelTexts[i], 2558, y.getPixelForValue(value) + 11);
        });

        // price tags on the axis
        ctx.font = "18.3px " + FONT;
        ctx.textAlign = "left";
        const tag = (value, color) => {
            const py = y.getPixelForValue(value);
            ctx.fillStyle = color;
            ctx.fillRect(3758, Math.round(py) - 6, 70, 23);
            ctx.fillStyle = "#fff";
            ctx.fillText(value.toFixed(1), 3765, Math.round(py) + 5.5);
        };
        levelValues.forEach((value, i) => tag(value, levelColors[i]));
        tag(lastPrice, "#000");

        // title
        ctx.fillStyle = "#000";
        ctx.beginPath();
        ctx.moveTo(9, 15);
        ctx.lineTo(21, 15);
        ctx.lineTo(15, 22);
        ctx.fill();
        ctx.fillText(titleText, 32, 19);

        // mouse pointer left on the screenshot
        ctx.strokeStyle = "#555";
        ctx.fillStyle = "#fff";
        ctx.lineWidth = 1.5;
        ctx.beginPath();
        ctx.moveTo(163, 946);
        ctx.lineTo(163, 975);
        ctx.lineTo(170, 969);
        ctx.lineTo(176, 982);
        ctx.lineTo(181, 980);
        ctx.lineTo(175, 967);
        ctx.lineTo(185, 967);
        ctx.closePath();
        ctx.fill();
        ctx.stroke();

        // red cross object
        ctx.strokeStyle = "#ff4650";
        ctx.lineWidth = 6;
        ctx.lineCap = "round";
        ctx.shadowColor = "rgba(0, 0, 0, 0.45)";
        ctx.shadowBlur = 5;
        ctx.shadowOffsetY = 4;
        ctx.beginPath();
        ctx.moveTo(3226, 1862);
        ctx.lineTo(3251, 1890);
        ctx.moveTo(3253, 1860);
        ctx.lineTo(3221, 1893);
        ctx.stroke();
        ctx.restore();
    },
};

new Chart(document.getElementById("priceChart"), {
    type: "bar",
    data: {
        labels: slots,
        datasets: [
            {
                label: "body",
                data: opens.map((open, i) => [open, closes[i]]),
                backgroundColor: opens.map((open, i) => (closes[i] >= open ? "#fff" : "#000")),
                borderColor: "#000",
                borderWidth: 1,
                borderSkipped: false,
                barThickness: 3,
                minBarLength: 1,
                grouped: false,
                order: 1,
            },
            {
                label: "wick",
                data: lows.map((low, i) => [low, highs[i]]),
                backgroundColor: "#000",
                borderWidth: 0,
                barThickness: 1,
                grouped: false,
                order: 2,
            },
            ...levelDatasets,
            {
                type: "line",
                data: slots.map(() => lastPrice),
                borderColor: GRID,
                borderWidth: 1,
                pointRadius: 0,
                order: 4,
            },
        ],
    },
    options: {
        responsive: false,
        animation: false,
        devicePixelRatio: 1,
        layout: { padding: { left: 5.5, top: 5, right: 0, bottom: 0 } },
        plugins: { legend: { display: false }, tooltip: { enabled: false } },
        scales: {
            x: {
                offset: false,
                afterFit: (scale) => { scale.height = 35; },
                afterBuildTicks: (scale) => {
                    scale.ticks = scale.ticks.filter((tick) => tick.value % (BARS_PER_TICK / 2) === 0);
                },
                grid: {
                    offset: false,
                    color: GRID,
                    tickLength: 5,
                    tickColor: (ctx) => (ctx.tick && timeTicks[ctx.tick.value / BARS_PER_TICK] ? "#000" : "rgba(0,0,0,0)"),
                },
                border: { color: "#000", width: 1, dash: [4, 3] },
                ticks: {
                    autoSkip: false,
                    maxRotation: 0,
                    align: "start",
                    padding: 1,
                    color: "#000",
                    font: { family: FONT, size: 18 },
                    callback: (value) => timeTicks[value / BARS_PER_TICK] || "",
                },
            },
            y: {
                position: "right",
                min: 3990.02,
                max: 4208.05,
                afterFit: (scale) => {
                    scale.width = 82.5;
                    scale.paddingTop = 0;
                    scale.paddingBottom = 0;
                },
                afterBuildTicks: (scale) => {
                    scale.ticks = priceTicks.map((value) => ({ value }));
                },
                grid: { color: GRID, tickLength: 5, tickColor: "#000" },
                border: { color: "#000", width: 1, dash: [4, 3] },
                ticks: {
                    padding: 3,
                    color: "#000",
                    font: { family: FONT, size: 18.3 },
                    callback: (value) => value.toFixed(1),
                },
            },
        },
    },
    plugins: [chartOverlay],
});
</script>
</body>
</html>
